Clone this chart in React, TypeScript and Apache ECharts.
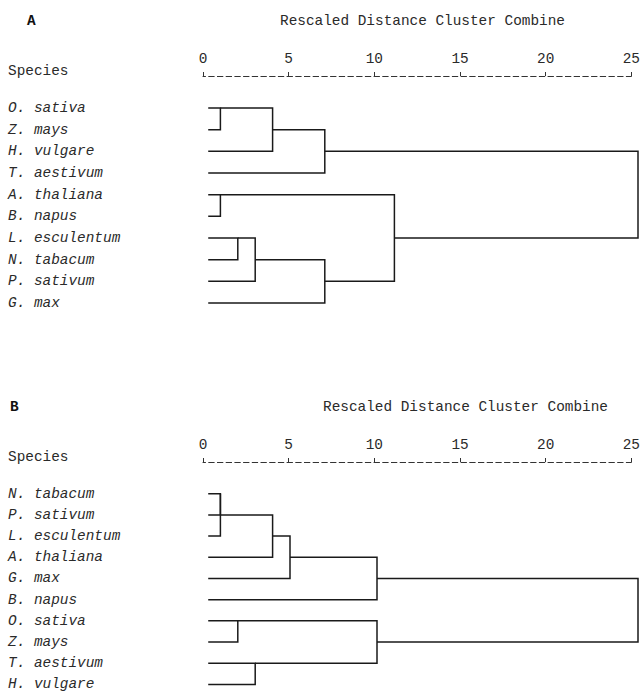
import React, { useEffect, useRef } from "react";
import * as echarts from "echarts";

// Leaf order (top to bottom) for each dendrogram
const speciesA = [
  "O. sativa",
  "Z. mays",
  "H. vulgare",
  "T. aestivum",
  "A. thaliana",
  "B. napus",
  "L. esculentum",
  "N. tabacum",
  "P. sativum",
  "G. max",
];
const speciesB = [
  "N. tabacum",
  "P. sativum",
  "L. esculentum",
  "A. thaliana",
  "G. max",
  "B. napus",
  "O. sativa",
  "Z. mays",
  "T. aestivum",
  "H. vulgare",
];

// Agglomeration schedule: [first row of cluster 1, first row of cluster 2, rescaled distance]
const mergesA: [number, number, number][] = [
  [0, 1, 1],
  [4, 5, 1],
  [6, 7, 2],
  [6, 8, 3],
  [0, 2, 4],
  [0, 3, 7],
  [6, 9, 7],
  [4, 6, 11],
  [0, 4, 25],
];
const mergesB: [number, number, number][] = [
  [0, 1, 1],
  [0, 2, 1],
  [6, 7, 2],
  [8, 9, 3],
  [0, 3, 4],
  [0, 4, 5],
  [0, 5, 10],
  [6, 8, 10],
  [0, 6, 25],
];

const distanceMin = 0;
const distanceMax = 25;
const distanceStep = 5;
const leafStart = 0.3;

const axisTitle = "Rescaled Distance Cluster Combine";
const rowHeader = "Species";

const MONO = "'Liberation Mono', 'DejaVu Sans Mono', monospace";
const FS = 14.4;
const LINE_COLOR = "#1a1a1a";
const TEXT_COLOR = "#2a2a2a";

function buildLinks(n: number, merges: [number, number, number][]) {
  const outRow = Array.from({ length: n }, (_, i) => i);
  const xPos = Array.from({ length: n }, () => leafStart);
  const links: { coords: number[][] }[] = [];
  for (const [a, b, d] of merges) {
    links.push({
      coords: [
        [xPos[a], outRow[a]],
        [d, outRow[a]],
        [d, outRow[b]],
        [xPos[b], outRow[b]],
      ],
    });
    outRow[a] = Math.floor((outRow[a] + outRow[b]) / 2);
    xPos[a] = d;
  }
  return links;
}

export default function App() {
  const ref = useRef<HTMLDivElement>(null);

  useEffect(() => {
    if (!ref.current) return;
    const chart = echarts.init(ref.current, null, { renderer: "svg" });

    const LEFT = 203;
    const RIGHT = 643 - 638;
    const BAND = 21.67;
    const panels = [
      { species: speciesA, merges: mergesA, dy: 0, letter: "A", letterX: 27, titleX: 280 },
      { species: speciesB, merges: mergesB, dy: 386, letter: "B", letterX: 10, titleX: 323 },
    ];

    const grid: any[] = [];
    const xAxis: any[] = [];
    const yAxis: any[] = [];
    const series: any[] = [];
    const title: any[] = [];

    panels.forEach((p, k) => {
      const axisY = 72 + p.dy;
      const treeTop = 108 + p.dy - BAND / 2;
      // axis grid (grid index 2k), tree grid (2k+1)
      grid.push({ left: LEFT, right: RIGHT, top: axisY, height: 4 });
      grid.push({ left: LEFT, right: RIGHT, top: treeTop, height: BAND * p.species.length });

      const gAxis = 2 * k;
      const gTree = 2 * k + 1;

      // top axis with labels, dashed line and upper half of the "+" ticks
      xAxis.push({
        type: "value",
        gridIndex: gAxis,
        position: "top",
        min: distanceMin,
        max: distanceMax,
        interval: distanceStep,
        axisLine: {
          show: true,
          lineStyle: { color: "#333", width: 1, type: [5.5, 3.2], dashOffset: 2.75 },
        },
        axisTick: { show: true, length: 4, lineStyle: { color: "#333", width: 1 } },
        axisLabel: {
          show: true,
          margin: 6,
          color: TEXT_COLOR,
          fontFamily: MONO,
          fontSize: FS,
        },
        splitLine: { show: false },
      });
      // bottom axis of the axis grid: lower half of the "+" ticks
      xAxis.push({
        type: "value",
        gridIndex: gAxis,
        position: "bottom",
        min: distanceMin,
        max: distanceMax,
        interval: distanceStep,
        axisLine: { show: false },
        axisTick: { show: true, inside: true, length: 4, lineStyle: { color: "#333", width: 1 } },
        axisLabel: { show: false },
        splitLine: { show: false },
      });
      // hidden x axis for the tree grid
      xAxis.push({
        type: "value",
        gridIndex: gTree,
        min: distanceMin,
        max: distanceMax,
        show: false,
        splitLine: { show: false },
      });

      yAxis.push({ type: "value", gridIndex: gAxis, show: false, splitLine: { show: false } });
      yAxis.push({
        type: "category",
        gridIndex: gTree,
        data: p.species,
        inverse: true,
        position: "left",
        axisLine: { show: false },
        axisTick: { show: false },
        splitLine: { show: false },
        axisLabel: {
          show: true,
          align: "left",
          margin: LEFT - 8,
          color: TEXT_COLOR,
          fontFamily: MONO,
          fontSize: FS,
          fontStyle: "italic",
        },
      });

      series.push({
        type: "lines",
        coordinateSystem: "cartesian2d",
        xAxisIndex: 3 * k + 2,
        yAxisIndex: 2 * k + 1,
        polyline: true,
        silent: true,
        lineStyle: { color: LINE_COLOR, width: 1.5, opacity: 1 },
        data: buildLinks(p.species.length, p.merges),
      });

      title.push({
        text: p.letter,
        left: p.letterX,
        top: 14 + p.dy,
        textStyle: { fontFamily: MONO, fontSize: FS, fontWeight: "bold", color: "#111" },
      });
      title.push({
        text: axisTitle,
        left: p.titleX,
        top: 14 + p.dy,
        textStyle: { fontFamily: MONO, fontSize: FS, fontWeight: "normal", color: TEXT_COLOR },
      });
      title.push({
        text: rowHeader,
        left: 8,
        top: 64 + p.dy,
        textStyle: { fontFamily: MONO, fontSize: FS, fontWeight: "normal", color: TEXT_COLOR },
      });
    });

    // titles have default padding 5; compensate
    title.forEach((t) => {
      t.padding = 0;
    });

    chart.setOption({
      animation: false,
      backgroundColor: "#fff",
      title,
      grid,
      xAxis,
      yAxis,
      series,
    });

    return () => chart.dispose();
  }, []);

  return (
    <div
      ref={ref}
      style={{ position: "fixed", left: 0, top: 0, width: 643, height: 695 }}
    />
  );
}
